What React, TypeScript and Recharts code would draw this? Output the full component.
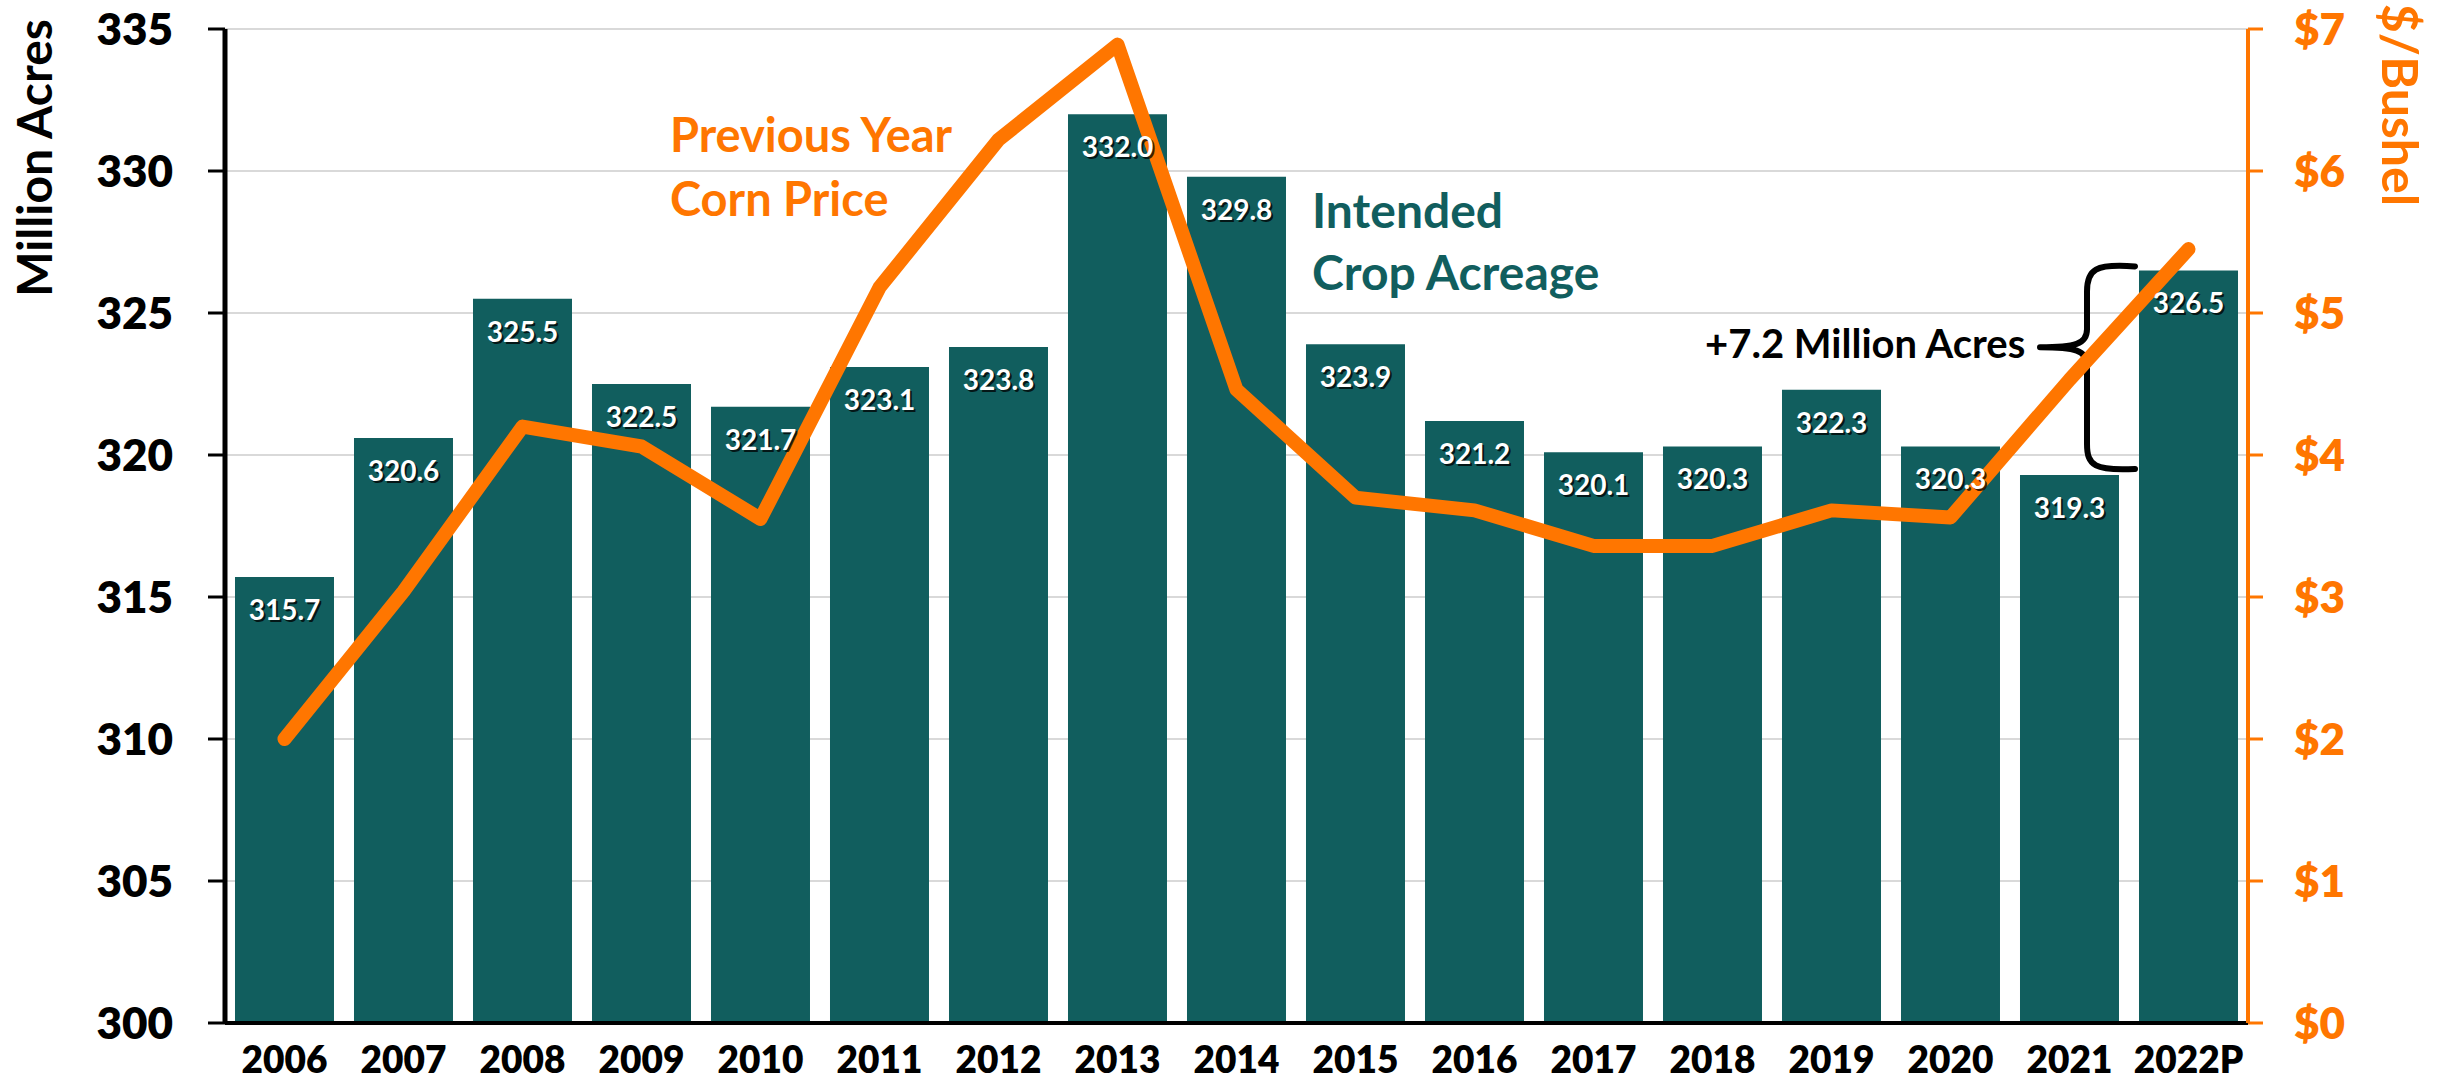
import { ComposedChart, Bar, Line, XAxis, YAxis, CartesianGrid, LabelList, ReferenceArea } from 'recharts'

const YEARS = ['2006', '2007', '2008', '2009', '2010', '2011', '2012', '2013', '2014', '2015', '2016', '2017', '2018', '2019', '2020', '2021', '2022P']
const ACREAGE = [315.7, 320.6, 325.5, 322.5, 321.7, 323.1, 323.8, 332.0, 329.8, 323.9, 321.2, 320.1, 320.3, 322.3, 320.3, 319.3, 326.5]
const CORN_PRICE = [2.0, 3.04, 4.2, 4.06, 3.55, 5.18, 6.22, 6.89, 4.46, 3.7, 3.61, 3.36, 3.36, 3.61, 3.56, 4.53, 5.45]
const ACRE_TICKS = [300, 305, 310, 315, 320, 325, 330, 335]
const PRICE_TICKS = [0, 1, 2, 3, 4, 5, 6, 7]

const TEAL = '#115E5E'
const ORANGE = '#FF7600'
const FONT = 'Lato, "Open Sans", sans-serif'

const data = YEARS.map((year, i) => ({ year, acres: ACREAGE[i], price: CORN_PRICE[i] }))

const LeftTick = ({ x, y, payload }: any) => (
  <text x={x} y={y} dy="0.36em" textAnchor="end" fontFamily={FONT} fontWeight={800} fontSize={44} fill="#000">
    {payload.value}
  </text>
)

const RightTick = ({ x, y, payload }: any) => (
  <text x={x} y={y} dy="0.36em" textAnchor="start" fontFamily={FONT} fontWeight={800} fontSize={44} fill={ORANGE}>
    ${payload.value}
  </text>
)

const YearTick = ({ x, y, payload }: any) => (
  <text x={x} y={y + 50} textAnchor="middle" fontFamily={FONT} fontWeight={800} fontSize={37} fill="#000">
    {payload.value}
  </text>
)

const BarValue = ({ x, y, width, value }: any) => {
  const cx = x + width / 2
  const label = Number(value).toFixed(1)
  return (
    <g fontFamily={FONT} fontWeight={700} fontSize={28} textAnchor="middle">
      <text x={cx + 2} y={y + 45} fill="#000" fillOpacity={0.75}>{label}</text>
      <text x={cx} y={y + 43} fill="#fff">{label}</text>
    </g>
  )
}

// curly brace drawn against the 2021 -> 2022P gap
const Brace = ({ x, y, width, height }: any) => {
  const right = x + width
  const x0 = right - 113
  const xv = right - 161
  const xt = right - 208
  const top = y - 4
  const bot = y + height - 6
  const tip = y + height * 0.376
  const d = [
    `M ${x0} ${top} C ${xv + 8} ${top - 3} ${xv} ${top + 3} ${xv} ${top + 25}`,
    `L ${xv} ${tip - 18} C ${xv} ${tip - 3} ${xv - 12} ${tip} ${xt} ${tip}`,
    `M ${xt} ${tip} C ${xv - 12} ${tip} ${xv} ${tip + 3} ${xv} ${tip + 18}`,
    `L ${xv} ${bot - 25} C ${xv} ${bot - 3} ${xv + 8} ${bot + 2} ${x0} ${bot}`
  ].join(' ')
  return <path d={d} fill="none" stroke="#000" strokeWidth={6} strokeLinecap="round" />
}

export default function App() {
  return (
    <div style={{ position: 'relative', width: 2446, height: 1081, background: '#fff' }}>
      <style>{'body{margin:0}'}</style>
      <ComposedChart
        width={2446}
        height={1081}
        data={data}
        margin={{ top: 29, right: 0, bottom: 0, left: 0 }}
        barCategoryGap="8.4%"
      >
        <CartesianGrid yAxisId="left" vertical={false} stroke="#D9D9D9" strokeWidth={2} />
        <XAxis
          dataKey="year"
          height={58}
          tickLine={false}
          tickSize={0}
          tickMargin={0}
          axisLine={{ stroke: '#000', strokeWidth: 4 }}
          tick={<YearTick />}
          interval={0}
        />
        <YAxis
          yAxisId="left"
          width={225}
          domain={[300, 335]}
          ticks={ACRE_TICKS}
          interval={0}
          tickSize={17}
          tickMargin={35}
          axisLine={{ stroke: '#000', strokeWidth: 5 }}
          tickLine={{ stroke: '#000', strokeWidth: 3 }}
          tick={<LeftTick />}
        />
        <YAxis
          yAxisId="right"
          orientation="right"
          width={198}
          domain={[0, 7]}
          ticks={PRICE_TICKS}
          interval={0}
          tickSize={15}
          tickMargin={31}
          axisLine={{ stroke: ORANGE, strokeWidth: 4 }}
          tickLine={{ stroke: ORANGE, strokeWidth: 3 }}
          tick={<RightTick />}
        />
        <Bar yAxisId="left" dataKey="acres" fill={TEAL} isAnimationActive={false}>
          <LabelList dataKey="acres" content={<BarValue />} />
        </Bar>
        <Line
          yAxisId="right"
          type="linear"
          dataKey="price"
          stroke={ORANGE}
          strokeWidth={14}
          strokeLinecap="round"
          strokeLinejoin="round"
          dot={false}
          activeDot={false}
          isAnimationActive={false}
        />
        <ReferenceArea
          yAxisId="left"
          y1={ACREAGE[15]}
          y2={ACREAGE[16]}
          shape={<Brace />}
        />
      </ComposedChart>
      <svg
        width={2446}
        height={1081}
        style={{ position: 'absolute', left: 0, top: 0, pointerEvents: 'none' }}
        fontFamily={FONT}
        fontWeight={700}
      >
        <text transform="translate(52,158) rotate(-90)" textAnchor="middle" fontSize={48} fill="#000">
          Million Acres
        </text>
        <text transform="translate(2382,105) rotate(90)" textAnchor="middle" fontSize={50} fill={ORANGE}>
          $/Bushel
        </text>
        <text x={670} y={152} fontSize={47} fill={ORANGE}>Previous Year</text>
        <text x={670} y={216} fontSize={47} fill={ORANGE}>Corn Price</text>
        <text x={1312} y={228} fontSize={48} fill={TEAL}>Intended</text>
        <text x={1312} y={290} fontSize={48} fill={TEAL}>Crop Acreage</text>
        <text x={1705} y={358} fontSize={40} fill="#000">+7.2 Million Acres</text>
      </svg>
    </div>
  )
}
